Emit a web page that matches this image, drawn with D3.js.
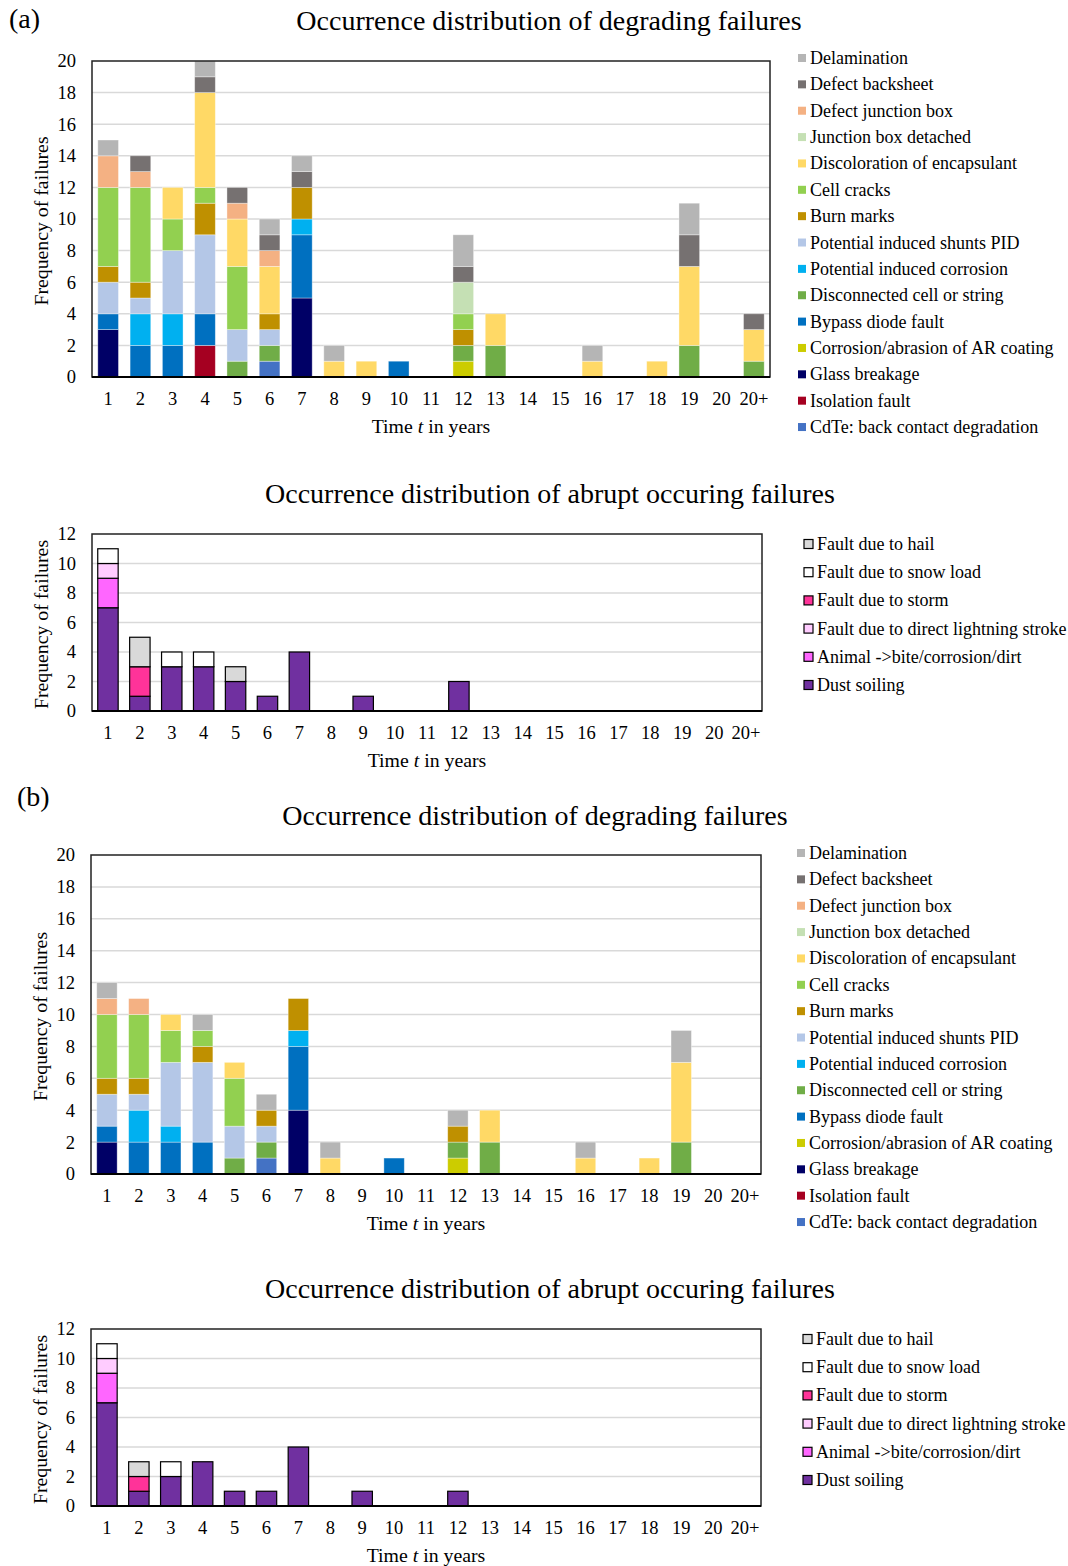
<!DOCTYPE html>
<html>
<head>
<meta charset="utf-8">
<script src="https://cdn.jsdelivr.net/npm/d3@7"></script>
<style>
  body { margin: 0; background: #fff; }
  text { font-family: "Liberation Serif", "Times New Roman", serif; fill: #000; }
</style>
</head>
<body>
<script>
// DATA
const YEARS = ['1','2','3','4','5','6','7','8','9','10','11','12','13','14','15','16','17','18','19','20','20+'];
const Y_TICKS_DEG = [0, 2, 4, 6, 8, 10, 12, 14, 16, 18, 20];
const Y_TICKS_ABR = [0, 2, 4, 6, 8, 10, 12];

// degrading failure types, legend order (top of stack first)
const DEG_NAMES = ['Delamination', 'Defect backsheet', 'Defect junction box', 'Junction box detached',
  'Discoloration of encapsulant', 'Cell cracks', 'Burn marks', 'Potential induced shunts PID',
  'Potential induced corrosion', 'Disconnected cell or string', 'Bypass diode fault',
  'Corrosion/abrasion of AR coating', 'Glass breakage', 'Isolation fault', 'CdTe: back contact degradation'];
const DEG_COLORS = ['#b5b5b5', '#767171', '#f4b183', '#c5e0b4', '#ffd966', '#92d050', '#bf9000', '#b4c7e7',
  '#00b0f0', '#70ad47', '#0070c0', '#cccc00', '#000066', '#a50021', '#4472c4'];

// abrupt failure types, legend order (top of stack first)
const ABR_NAMES = ['Fault due to hail', 'Fault due to snow load', 'Fault due to storm',
  'Fault due to direct lightning stroke', 'Animal ->bite/corrosion/dirt', 'Dust soiling'];
const ABR_COLORS = ['#d9d9d9', '#ffffff', '#ff3399', '#ffccff', '#ff66ff', '#7030a0'];

// (a) degrading
const A_DELAMINATION  = [1,0,0,1,0,1,1,1,0,0,0,2,0,0,0,1,0,0,2,0,0];
const A_BACKSHEET     = [0,1,0,1,1,1,1,0,0,0,0,1,0,0,0,0,0,0,2,0,1];
const A_JBOX          = [2,1,0,0,1,1,0,0,0,0,0,0,0,0,0,0,0,0,0,0,0];
const A_JBOX_DETACHED = [0,0,0,0,0,0,0,0,0,0,0,2,0,0,0,0,0,0,0,0,0];
const A_DISCOLORATION = [0,0,2,6,3,3,0,1,1,0,0,0,2,0,0,1,0,1,5,0,2];
const A_CELL_CRACKS   = [5,6,2,1,4,0,0,0,0,0,0,1,0,0,0,0,0,0,0,0,0];
const A_BURN_MARKS    = [1,1,0,2,0,1,2,0,0,0,0,1,0,0,0,0,0,0,0,0,0];
const A_PID           = [2,1,4,5,2,1,0,0,0,0,0,0,0,0,0,0,0,0,0,0,0];
const A_PIC           = [0,2,2,0,0,0,1,0,0,0,0,0,0,0,0,0,0,0,0,0,0];
const A_DISCONNECTED  = [0,0,0,0,1,1,0,0,0,0,0,1,2,0,0,0,0,0,2,0,1];
const A_BYPASS        = [1,2,2,2,0,0,4,0,0,1,0,0,0,0,0,0,0,0,0,0,0];
const A_AR_COATING    = [0,0,0,0,0,0,0,0,0,0,0,1,0,0,0,0,0,0,0,0,0];
const A_GLASS         = [3,0,0,0,0,0,5,0,0,0,0,0,0,0,0,0,0,0,0,0,0];
const A_ISOLATION     = [0,0,0,2,0,0,0,0,0,0,0,0,0,0,0,0,0,0,0,0,0];
const A_CDTE          = [0,0,0,0,0,1,0,0,0,0,0,0,0,0,0,0,0,0,0,0,0];

// (a) abrupt
const A_HAIL      = [0,2,0,0,1,0,0,0,0,0,0,0,0,0,0,0,0,0,0,0,0];
const A_SNOW      = [1,0,1,1,0,0,0,0,0,0,0,0,0,0,0,0,0,0,0,0,0];
const A_STORM     = [0,2,0,0,0,0,0,0,0,0,0,0,0,0,0,0,0,0,0,0,0];
const A_LIGHTNING = [1,0,0,0,0,0,0,0,0,0,0,0,0,0,0,0,0,0,0,0,0];
const A_ANIMAL    = [2,0,0,0,0,0,0,0,0,0,0,0,0,0,0,0,0,0,0,0,0];
const A_DUST      = [7,1,3,3,2,1,4,0,1,0,0,2,0,0,0,0,0,0,0,0,0];

// (b) degrading
const B_DELAMINATION  = [1,0,0,1,0,1,0,1,0,0,0,1,0,0,0,1,0,0,2,0,0];
const B_BACKSHEET     = [0,0,0,0,0,0,0,0,0,0,0,0,0,0,0,0,0,0,0,0,0];
const B_JBOX          = [1,1,0,0,0,0,0,0,0,0,0,0,0,0,0,0,0,0,0,0,0];
const B_JBOX_DETACHED = [0,0,0,0,0,0,0,0,0,0,0,0,0,0,0,0,0,0,0,0,0];
const B_DISCOLORATION = [0,0,1,0,1,0,0,1,0,0,0,0,2,0,0,1,0,1,5,0,0];
const B_CELL_CRACKS   = [4,4,2,1,3,0,0,0,0,0,0,0,0,0,0,0,0,0,0,0,0];
const B_BURN_MARKS    = [1,1,0,1,0,1,2,0,0,0,0,1,0,0,0,0,0,0,0,0,0];
const B_PID           = [2,1,4,5,2,1,0,0,0,0,0,0,0,0,0,0,0,0,0,0,0];
const B_PIC           = [0,2,1,0,0,0,1,0,0,0,0,0,0,0,0,0,0,0,0,0,0];
const B_DISCONNECTED  = [0,0,0,0,1,1,0,0,0,0,0,1,2,0,0,0,0,0,2,0,0];
const B_BYPASS        = [1,2,2,2,0,0,4,0,0,1,0,0,0,0,0,0,0,0,0,0,0];
const B_AR_COATING    = [0,0,0,0,0,0,0,0,0,0,0,1,0,0,0,0,0,0,0,0,0];
const B_GLASS         = [2,0,0,0,0,0,4,0,0,0,0,0,0,0,0,0,0,0,0,0,0];
const B_ISOLATION     = [0,0,0,0,0,0,0,0,0,0,0,0,0,0,0,0,0,0,0,0,0];
const B_CDTE          = [0,0,0,0,0,1,0,0,0,0,0,0,0,0,0,0,0,0,0,0,0];

// (b) abrupt
const B_HAIL      = [0,1,0,0,0,0,0,0,0,0,0,0,0,0,0,0,0,0,0,0,0];
const B_SNOW      = [1,0,1,0,0,0,0,0,0,0,0,0,0,0,0,0,0,0,0,0,0];
const B_STORM     = [0,1,0,0,0,0,0,0,0,0,0,0,0,0,0,0,0,0,0,0,0];
const B_LIGHTNING = [1,0,0,0,0,0,0,0,0,0,0,0,0,0,0,0,0,0,0,0,0];
const B_ANIMAL    = [2,0,0,0,0,0,0,0,0,0,0,0,0,0,0,0,0,0,0,0,0];
const B_DUST      = [7,1,2,3,1,1,4,0,1,0,0,1,0,0,0,0,0,0,0,0,0];

const A_DEG = [A_DELAMINATION, A_BACKSHEET, A_JBOX, A_JBOX_DETACHED, A_DISCOLORATION, A_CELL_CRACKS,
  A_BURN_MARKS, A_PID, A_PIC, A_DISCONNECTED, A_BYPASS, A_AR_COATING, A_GLASS, A_ISOLATION, A_CDTE];
const B_DEG = [B_DELAMINATION, B_BACKSHEET, B_JBOX, B_JBOX_DETACHED, B_DISCOLORATION, B_CELL_CRACKS,
  B_BURN_MARKS, B_PID, B_PIC, B_DISCONNECTED, B_BYPASS, B_AR_COATING, B_GLASS, B_ISOLATION, B_CDTE];
const A_ABR = [A_HAIL, A_SNOW, A_STORM, A_LIGHTNING, A_ANIMAL, A_DUST];
const B_ABR = [B_HAIL, B_SNOW, B_STORM, B_LIGHTNING, B_ANIMAL, B_DUST];

const WIDTH = 1068;
const HEIGHT = 1566;

const svg = d3.select('body')
  .append('svg')
  .attr('width', WIDTH)
  .attr('height', HEIGHT);

// panel letters
svg.append('text').attr('x', 9).attr('y', 28).style('font-size', '28px').text('(a)');
svg.append('text').attr('x', 17).attr('y', 806).style('font-size', '28px').text('(b)');

function drawChart(cfg) {
  const g = svg.append('g');

  // build stack table, bottom series = last legend entry
  const keys = cfg.names.slice().reverse();
  const table = YEARS.map((y, i) => {
    const row = { year: y };
    cfg.names.forEach((n, k) => { row[n] = cfg.series[k][i]; });
    return row;
  });
  const stacked = d3.stack().keys(keys)(table);
  const colorOf = d3.scaleOrdinal().domain(cfg.names).range(cfg.colors);

  const x = d3.scaleBand()
    .domain(YEARS)
    .range([cfg.left, cfg.right])
    .paddingInner(0.36)
    .paddingOuter(0.18);
  const y = d3.scaleLinear()
    .domain([0, cfg.max])
    .range([cfg.bottom, cfg.top]);

  // title
  g.append('text')
    .attr('x', cfg.titleX)
    .attr('y', cfg.titleY)
    .attr('text-anchor', 'middle')
    .style('font-size', '28px')
    .text(cfg.title);

  // gridlines
  g.selectAll('.grid')
    .data(cfg.ticks.filter(t => t > 0 && t < cfg.max))
    .enter().append('line')
    .attr('x1', cfg.left).attr('x2', cfg.right)
    .attr('y1', d => y(d)).attr('y2', d => y(d))
    .attr('stroke', '#d9d9d9')
    .attr('stroke-width', 1.5);

  // bars
  g.selectAll('.layer')
    .data(stacked)
    .enter().append('g')
    .attr('fill', d => colorOf(d.key))
    .selectAll('rect')
    .data(d => d.filter(s => s[1] - s[0] > 0))
    .enter().append('rect')
    .attr('x', d => x(d.data.year))
    .attr('y', d => y(d[1]))
    .attr('width', x.bandwidth())
    .attr('height', d => y(d[0]) - y(d[1]))
    .attr('stroke', cfg.outlined ? '#000' : 'rgba(255,255,255,0.45)')
    .attr('stroke-width', cfg.outlined ? 1.2 : 0.8);

  // plot border
  g.append('rect')
    .attr('x', cfg.left).attr('y', cfg.top)
    .attr('width', cfg.right - cfg.left)
    .attr('height', cfg.bottom - cfg.top)
    .attr('fill', 'none')
    .attr('stroke', '#222')
    .attr('stroke-width', 1.5);
  g.append('line')
    .attr('x1', cfg.left).attr('x2', cfg.right)
    .attr('y1', cfg.bottom).attr('y2', cfg.bottom)
    .attr('stroke', '#000')
    .attr('stroke-width', 2);

  // y axis
  const yAxis = d3.axisLeft(y).tickValues(cfg.ticks).tickSize(0).tickPadding(16);
  const yg = g.append('g')
    .attr('transform', 'translate(' + cfg.left + ',0)')
    .call(yAxis);
  yg.select('.domain').remove();
  yg.selectAll('text')
    .style('font-family', '"Liberation Serif", serif')
    .style('font-size', '18.5px')
    .attr('fill', '#000');

  // x axis
  const xAxis = d3.axisBottom(x).tickSize(0).tickPadding(15);
  const xg = g.append('g')
    .attr('transform', 'translate(0,' + cfg.bottom + ')')
    .call(xAxis);
  xg.select('.domain').remove();
  xg.selectAll('text')
    .style('font-family', '"Liberation Serif", serif')
    .style('font-size', '18.5px')
    .attr('fill', '#000');

  // axis titles
  const xt = g.append('text')
    .attr('x', cfg.xTitleX)
    .attr('y', cfg.bottom + 56)
    .attr('text-anchor', 'middle')
    .style('font-size', '19.8px');
  xt.append('tspan').text('Time ');
  xt.append('tspan').style('font-style', 'italic').text('t');
  xt.append('tspan').text(' in years');

  g.append('text')
    .attr('transform', 'translate(' + cfg.yTitleX + ',' + ((cfg.top + cfg.bottom) / 2 + 2) + ') rotate(-90)')
    .attr('text-anchor', 'middle')
    .style('font-size', '19.8px')
    .text('Frequency of failures');

  // legend
  const leg = g.selectAll('.leg')
    .data(cfg.names)
    .enter().append('g')
    .attr('transform', (d, i) => 'translate(' + cfg.legX + ',' + (cfg.legY + i * cfg.legStep) + ')');
  leg.append('rect')
    .attr('x', 0)
    .attr('y', -cfg.sq / 2)
    .attr('width', cfg.sq)
    .attr('height', cfg.sq)
    .attr('fill', d => colorOf(d))
    .attr('stroke', cfg.outlined ? '#000' : 'none')
    .attr('stroke-width', 1.2);
  leg.append('text')
    .attr('x', cfg.sq + 4)
    .attr('y', 6)
    .style('font-size', '18px')
    .text(d => d);
}

drawChart({
  title: 'Occurrence distribution of degrading failures', titleX: 549, titleY: 30,
  names: DEG_NAMES, colors: DEG_COLORS, series: A_DEG, outlined: false,
  left: 92, right: 770, top: 61, bottom: 377, max: 20, ticks: Y_TICKS_DEG,
  xTitleX: 431, yTitleX: 48,
  legX: 798, legY: 58, legStep: 26.36, sq: 8
});

drawChart({
  title: 'Occurrence distribution of abrupt occuring failures', titleX: 550, titleY: 503,
  names: ABR_NAMES, colors: ABR_COLORS, series: A_ABR, outlined: true,
  left: 92, right: 762, top: 534, bottom: 711, max: 12, ticks: Y_TICKS_ABR,
  xTitleX: 427, yTitleX: 48,
  legX: 804, legY: 544, legStep: 28.2, sq: 9
});

drawChart({
  title: 'Occurrence distribution of degrading failures', titleX: 535, titleY: 825,
  names: DEG_NAMES, colors: DEG_COLORS, series: B_DEG, outlined: false,
  left: 91, right: 761, top: 855, bottom: 1174, max: 20, ticks: Y_TICKS_DEG,
  xTitleX: 426, yTitleX: 47,
  legX: 797, legY: 853, legStep: 26.36, sq: 8
});

drawChart({
  title: 'Occurrence distribution of abrupt occuring failures', titleX: 550, titleY: 1298,
  names: ABR_NAMES, colors: ABR_COLORS, series: B_ABR, outlined: true,
  left: 91, right: 761, top: 1329, bottom: 1506, max: 12, ticks: Y_TICKS_ABR,
  xTitleX: 426, yTitleX: 47,
  legX: 803, legY: 1339, legStep: 28.2, sq: 9
});
</script>
</body>
</html>
